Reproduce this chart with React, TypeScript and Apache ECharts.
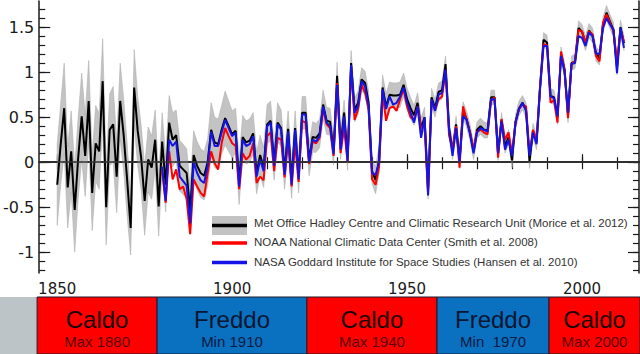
import React, { useEffect, useRef } from 'react';
import * as echarts from 'echarts';

const hadStartYear = 1850;
const noaaStartYear = 1880;
const nasaStartYear = 1880;

// Met Office Hadley Centre / CRU (black) 1850-2012
const hadcrut = [
  -0.25, 0.2, 0.6, -0.28, 0.12, -0.53, 0.05, 0.51, 0.07, 0.68,
  -0.34, 0.21, 0.12, 0.9, -0.5, 0.36, 0.42, -0.16, 0.68, 0.3,
  -0.2, -0.73, 0.83, 0.35, 0.05, -0.43, 0.03, -0.06, 0.25, -0.49,
  0.23, -0.25, 0.44, 0.25, 0.3, -0.04, -0.08, -0.12, -0.53, 0.08,
  -0.04, -0.12, -0.15, 0.0, 0.36, 0.22, 0.2, 0.36, 0.49, 0.4,
  0.31, 0.35, -0.22, 0.28, 0.22, 0.24, 0.32, -0.12, 0.08, -0.06,
  0.42, 0.46, 0.0, 0.44, 0.38, -0.1, 0.37, -0.2, 0.38, -0.15,
  0.55, 0.55, 0.02, 0.28, 0.27, 0.32, 0.64, 0.46, 0.45, 0.12,
  0.96, 0.18, 0.55, 0.05, 1.1, 0.58, 0.66, 0.92, 0.88, 0.66,
  -0.1, -0.2, 0.03, 0.83, 0.62, 0.75, 0.74, 0.74, 0.75, 0.86,
  0.7, 0.6, 0.52, 0.66, 0.38, 0.5, -0.3, 0.72, 0.6, 0.78,
  0.8, 1.09, 0.38, 0.12, 0.42, 0.02, 0.58, 0.48, 0.33, 0.12,
  0.36, 0.4, 0.36, 0.35, 0.72, 0.72, 0.1, 0.47, 0.18, 0.28,
  0.02, 0.45, 0.6, 0.66, 0.58, 0.01, 0.35, 0.22, 0.83, 1.36,
  1.33, 0.74, 0.72, 0.5, 1.2, 1.03, 0.52, 1.1, 1.12, 1.49,
  1.45, 1.32, 1.46, 1.41, 1.2, 1.16, 1.53, 1.66, 1.56, 1.47,
  1.05, 1.5, 1.32,
];

// half-width of the grey uncertainty band around the black series
const hadUnc = [
  0.45, 0.45, 0.5, 0.45, 0.45, 0.47, 0.45, 0.48, 0.45, 0.45,
  0.42, 0.42, 0.42, 0.47, 0.42, 0.4, 0.42, 0.4, 0.42, 0.4,
  0.4, 0.3, 0.42, 0.38, 0.36, 0.38, 0.36, 0.35, 0.33, 0.33,
  0.32, 0.3, 0.3, 0.3, 0.28, 0.28, 0.28, 0.27, 0.27, 0.27,
  0.27, 0.27, 0.27, 0.26, 0.3, 0.28, 0.28, 0.27, 0.3, 0.28,
  0.26, 0.25, 0.25, 0.24, 0.24, 0.24, 0.23, 0.23, 0.22, 0.22,
  0.22, 0.22, 0.2, 0.22, 0.2, 0.2, 0.2, 0.2, 0.19, 0.19,
  0.18, 0.18, 0.17, 0.17, 0.16, 0.16, 0.16, 0.15, 0.15, 0.15,
  0.15, 0.15, 0.14, 0.14, 0.14, 0.13, 0.13, 0.13, 0.13, 0.13,
  0.14, 0.15, 0.15, 0.14, 0.14, 0.14, 0.14, 0.14, 0.14, 0.13,
  0.12, 0.12, 0.11, 0.11, 0.11, 0.11, 0.11, 0.1, 0.1, 0.1,
  0.1, 0.09, 0.09, 0.09, 0.09, 0.09, 0.09, 0.09, 0.09, 0.09,
  0.09, 0.09, 0.09, 0.08, 0.08, 0.08, 0.08, 0.08, 0.08, 0.08,
  0.08, 0.08, 0.08, 0.08, 0.08, 0.08, 0.08, 0.08, 0.08, 0.08,
  0.08, 0.08, 0.08, 0.08, 0.08, 0.08, 0.08, 0.08, 0.08, 0.08,
  0.08, 0.08, 0.08, 0.08, 0.08, 0.08, 0.08, 0.08, 0.08, 0.08,
  0.08, 0.08, 0.08,
];

// NOAA NCDC (red) 1880-2012
const noaa = [
  -0.1, -0.45, 0.12, -0.19, -0.08, -0.3, -0.27, -0.41, -0.8, -0.19,
  -0.27, -0.34, -0.38, -0.12, 0.12, -0.01, -0.08, 0.21, 0.38, 0.29,
  0.21, 0.18, -0.3, 0.1, 0.03, 0.07, 0.21, -0.23, -0.16, -0.2,
  0.29, 0.33, -0.1, 0.27, 0.25, -0.17, 0.25, -0.27, 0.21, -0.22,
  0.46, 0.44, -0.02, 0.23, 0.21, 0.27, 0.59, 0.42, 0.38, 0.07,
  0.88, 0.1, 0.38, 0.0, 1.05, 0.47, 0.59, 0.86, 0.77, 0.59,
  -0.19, -0.25, -0.05, 0.77, 0.46, 0.6, 0.62, 0.57, 0.7, 0.81,
  0.62, 0.5, 0.47, 0.62, 0.38, 0.4, -0.35, 0.68, 0.58, 0.7,
  0.73, 1.02, 0.3, 0.14, 0.4, -0.06, 0.62, 0.47, 0.33, 0.14,
  0.34, 0.36, 0.33, 0.31, 0.68, 0.72, 0.05, 0.48, 0.25, 0.33,
  0.1, 0.44, 0.59, 0.64, 0.62, 0.1, 0.36, 0.25, 0.83, 1.31,
  1.3, 0.66, 0.69, 0.44, 1.23, 1.03, 0.49, 1.09, 1.12, 1.47,
  1.45, 1.33, 1.45, 1.42, 1.18, 1.12, 1.55, 1.64, 1.55, 1.45,
  1.12, 1.47, 1.34,
];

// NASA GISS (blue) 1880-2012
const nasa = [
  -0.05, -0.43, 0.25, 0.18, 0.23, -0.16, -0.21, -0.26, -0.68, 0.0,
  -0.12, -0.2, -0.23, -0.04, 0.34, 0.18, 0.18, 0.33, 0.47, 0.38,
  0.29, 0.33, -0.27, 0.25, 0.18, 0.2, 0.29, -0.16, 0.03, -0.1,
  0.4, 0.44, -0.04, 0.42, 0.36, -0.14, 0.34, -0.25, 0.36, -0.19,
  0.53, 0.53, 0.0, 0.25, 0.23, 0.29, 0.62, 0.44, 0.4, 0.09,
  0.86, 0.14, 0.51, 0.01, 1.08, 0.55, 0.62, 0.9, 0.84, 0.62,
  -0.12, -0.14, 0.0, 0.81, 0.59, 0.73, 0.64, 0.66, 0.73, 0.83,
  0.66, 0.55, 0.44, 0.62, 0.27, 0.5, -0.37, 0.7, 0.57, 0.75,
  0.77, 1.03, 0.36, 0.07, 0.38, 0.01, 0.51, 0.47, 0.31, 0.1,
  0.33, 0.38, 0.36, 0.34, 0.7, 0.7, 0.1, 0.46, 0.14, 0.25,
  0.07, 0.44, 0.59, 0.66, 0.57, 0.07, 0.33, 0.2, 0.81, 1.29,
  1.29, 0.73, 0.71, 0.51, 1.18, 1.01, 0.55, 1.09, 1.1, 1.4,
  1.38, 1.29, 1.44, 1.4, 1.21, 1.2, 1.49, 1.6, 1.53, 1.47,
  0.99, 1.49, 1.27,
];

const xMajorTicks = [1850, 1900, 1950, 2000];
const xMinorTicks = [1850, 1860, 1870, 1880, 1890, 1900, 1910, 1920, 1930, 1940, 1950, 1960, 1970, 1980, 1990, 2000, 2010];
const yMajorTicks = [-1, -0.5, 0, 0.5, 1, 1.5];
const yMinorTicks = [-1.2, -1.1, -1, -0.9, -0.8, -0.7, -0.6, -0.5, -0.4, -0.3, -0.2, -0.1, 0, 0.1, 0.2, 0.3, 0.4, 0.5, 0.6, 0.7, 0.8, 0.9, 1, 1.1, 1.2, 1.3, 1.4, 1.5, 1.6, 1.7];

const legendLabels = [
  'Met Office Hadley Centre and Climatic Research Unit (Morice et al. 2012)',
  'NOAA National Climatic Data Center (Smith et al. 2008)',
  'NASA Goddard Institute for Space Studies (Hansen et al. 2010)',
];

// Bottom band of warm / cold periods (years)
const bandStart = [1833.7, 1844.3, 1878.6, 1921.4, 1958.6, 1990.6];
const bandEnd = [1844.3, 1878.6, 1921.4, 1958.6, 1990.6, 2016.6];
const bandKind = ['none', 'warm', 'cold', 'warm', 'cold', 'warm'];
const bandTitle = ['', 'Caldo', 'Freddo', 'Caldo', 'Freddo', 'Caldo'];
const bandSub = ['', 'Max 1880', 'Min 1910', 'Max 1940', 'Min  1970', 'Max 2000'];

const X_MIN = 1844.86;
const X_MAX = 2016.29;
const Y_MIN = -1.23;
const Y_MAX = 1.79;

const FONT = 'Liberation Sans, Arial, Helvetica, sans-serif';
const AXIS_FONT = 'DejaVu Sans, Liberation Sans, sans-serif';

export default function App() {
  const ref = useRef<HTMLDivElement>(null);

  useEffect(() => {
    if (!ref.current) return;
    const chart = echarts.init(ref.current, null, { renderer: 'svg' });

    const hadPts = hadcrut.map((v, i) => [hadStartYear + i, v]);
    const noaaPts = noaa.map((v, i) => [noaaStartYear + i, v]);
    const nasaPts = nasa.map((v, i) => [nasaStartYear + i, v]);

    const axisLineStyle = { color: '#1a1a1a', width: 1.5 };
    const tickStyle = { color: '#1a1a1a', width: 1.2 };

    const lineBase = {
      type: 'line' as const,
      xAxisIndex: 0,
      yAxisIndex: 0,
      symbol: 'none',
      silent: true,
    };

    const legendY = [224, 243, 262.5];

    const option: any = {
      animation: false,
      backgroundColor: '#ffffff',
      grid: [
        { left: 39, top: 1, width: 600, height: 272 },
        { left: 0, top: 297, width: 640, height: 57 },
      ],
      xAxis: [
        {
          gridIndex: 0, type: 'value', position: 'bottom', min: X_MIN, max: X_MAX,
          axisLine: { show: true, lineStyle: axisLineStyle },
          axisTick: { show: true, inside: true, length: 5, customValues: xMinorTicks, lineStyle: tickStyle },
          axisLabel: { show: false },
          splitLine: { show: false },
        },
        {
          gridIndex: 0, type: 'value', position: 'bottom', min: X_MIN, max: X_MAX,
          axisLine: { show: false },
          axisTick: { show: true, inside: true, length: 8, customValues: xMajorTicks, lineStyle: tickStyle },
          axisLabel: {
            show: true, customValues: xMajorTicks, margin: 8, fontSize: 15,
            fontFamily: AXIS_FONT, color: '#1a1a1a', formatter: (v: number) => String(v),
          },
          splitLine: { show: false },
        },
        {
          gridIndex: 0, type: 'value', position: 'top', min: X_MIN, max: X_MAX,
          axisLine: { show: true, lineStyle: axisLineStyle },
          axisTick: { show: true, inside: true, length: 7, customValues: xMinorTicks, lineStyle: tickStyle },
          axisLabel: { show: false },
          splitLine: { show: false },
        },
        {
          gridIndex: 1, type: 'value', min: bandStart[0], max: bandEnd[bandEnd.length - 1], show: false,
        },
      ],
      yAxis: [
        {
          gridIndex: 0, type: 'value', position: 'left', min: Y_MIN, max: Y_MAX,
          axisLine: { show: true, lineStyle: axisLineStyle },
          axisTick: { show: true, inside: true, length: 6, customValues: yMinorTicks, lineStyle: tickStyle },
          axisLabel: { show: false },
          splitLine: { show: false },
        },
        {
          gridIndex: 0, type: 'value', position: 'left', min: Y_MIN, max: Y_MAX,
          axisLine: { show: false },
          axisTick: { show: true, inside: true, length: 11, customValues: yMajorTicks, lineStyle: tickStyle },
          axisLabel: {
            show: true, customValues: yMajorTicks, margin: 5, fontSize: 16,
            fontFamily: AXIS_FONT, color: '#1a1a1a', formatter: (v: number) => String(v),
          },
          splitLine: { show: false },
        },
        {
          gridIndex: 0, type: 'value', position: 'right', min: Y_MIN, max: Y_MAX,
          axisLine: { show: true, lineStyle: axisLineStyle },
          axisTick: { show: true, inside: true, length: 6, customValues: yMinorTicks, lineStyle: tickStyle },
          axisLabel: { show: false },
          splitLine: { show: false },
        },
        {
          gridIndex: 0, type: 'value', position: 'right', min: Y_MIN, max: Y_MAX,
          axisLine: { show: false },
          axisTick: { show: true, inside: true, length: 11, customValues: yMajorTicks, lineStyle: tickStyle },
          axisLabel: { show: false },
          splitLine: { show: false },
        },
        { gridIndex: 1, type: 'value', min: 0, max: 1, show: false },
      ],
      series: [
        {
          type: 'custom', name: 'uncertainty', xAxisIndex: 0, yAxisIndex: 0, silent: true,
          data: [[hadStartYear, 0]],
          encode: { x: 0, y: 1 },
          renderItem: (params: any, api: any) => {
            const upper = hadcrut.map((v, i) => api.coord([hadStartYear + i, v + hadUnc[i]]));
            const lower = hadcrut.map((v, i) => api.coord([hadStartYear + i, v - hadUnc[i]])).reverse();
            return {
              type: 'polygon',
              shape: { points: upper.concat(lower) },
              style: { fill: '#c3c3c3', stroke: '#b0b0b0', lineWidth: 0.6 },
            };
          },
        },
        {
          ...lineBase, name: 'zero', data: [],
          markLine: {
            silent: true, symbol: 'none', label: { show: false },
            lineStyle: { color: '#333333', width: 1.5, type: 'solid' },
            data: [{ yAxis: 0 }],
          },
        },
        {
          ...lineBase, name: 'Met Office', data: hadPts,
          lineStyle: { color: '#000000', width: 2 },
        },
        {
          ...lineBase, name: 'NOAA', data: noaaPts,
          lineStyle: { color: '#ff0000', width: 2 },
        },
        {
          ...lineBase, name: 'NASA', data: nasaPts,
          lineStyle: { color: '#1414e6', width: 2 },
        },
        {
          type: 'custom', name: 'periods', xAxisIndex: 3, yAxisIndex: 4, silent: true,
          data: bandStart.map((s, i) => [s, bandEnd[i], i]),
          encode: { x: [0, 1] },
          renderItem: (params: any, api: any) => {
            const i = api.value(2);
            const p0 = api.coord([api.value(0), 0]);
            const p1 = api.coord([api.value(1), 0]);
            const cs = params.coordSys;
            const kind = bandKind[i];
            const fill = kind === 'warm' ? '#ff0000' : kind === 'cold' ? '#0a70c0' : '#bcc4c8';
            const children: any[] = [
              {
                type: 'rect',
                shape: { x: p0[0], y: cs.y, width: p1[0] - p0[0], height: cs.height },
                style: { fill, stroke: kind === 'none' ? 'none' : '#1c1c2c', lineWidth: 1 },
              },
            ];
            if (bandTitle[i]) {
              const cx = (p0[0] + p1[0]) / 2;
              children.push({
                type: 'text',
                style: {
                  text: bandTitle[i], x: cx, y: cs.y + 22, align: 'center', verticalAlign: 'middle',
                  fontSize: 24, fontFamily: FONT, fill: kind === 'warm' ? '#1a0505' : '#0c1630',
                },
              });
              children.push({
                type: 'text',
                style: {
                  text: bandSub[i], x: cx, y: cs.y + 44, align: 'center', verticalAlign: 'middle',
                  fontSize: 15, fontFamily: FONT, fill: kind === 'warm' ? '#5a0000' : '#0c1a40',
                },
              });
            }
            return { type: 'group', children };
          },
        },
      ],
      graphic: [
        { type: 'rect', shape: { x: 212, y: 216, width: 35, height: 19 }, style: { fill: '#c3c3c3' } },
        { type: 'line', shape: { x1: 212, y1: legendY[0] + 1.5, x2: 247, y2: legendY[0] + 1.5 }, style: { stroke: '#000000', lineWidth: 3.5 } },
        { type: 'line', shape: { x1: 212, y1: legendY[1], x2: 247, y2: legendY[1] }, style: { stroke: '#ff0000', lineWidth: 3.5 } },
        { type: 'line', shape: { x1: 212, y1: legendY[2], x2: 247, y2: legendY[2] }, style: { stroke: '#1414e6', lineWidth: 3.5 } },
        ...legendLabels.map((t, i) => ({
          type: 'text',
          x: 254,
          y: legendY[i] - 1,
          style: { text: t, fontSize: 11.5, fontFamily: FONT, fill: '#333333', verticalAlign: 'middle', align: 'left' },
        })),
      ],
    };

    chart.setOption(option);
    return () => chart.dispose();
  }, []);

  return (
    <div
      ref={ref}
      style={{ position: 'fixed', left: 0, top: 0, width: 640, height: 354, background: '#ffffff' }}
    />
  );
}
